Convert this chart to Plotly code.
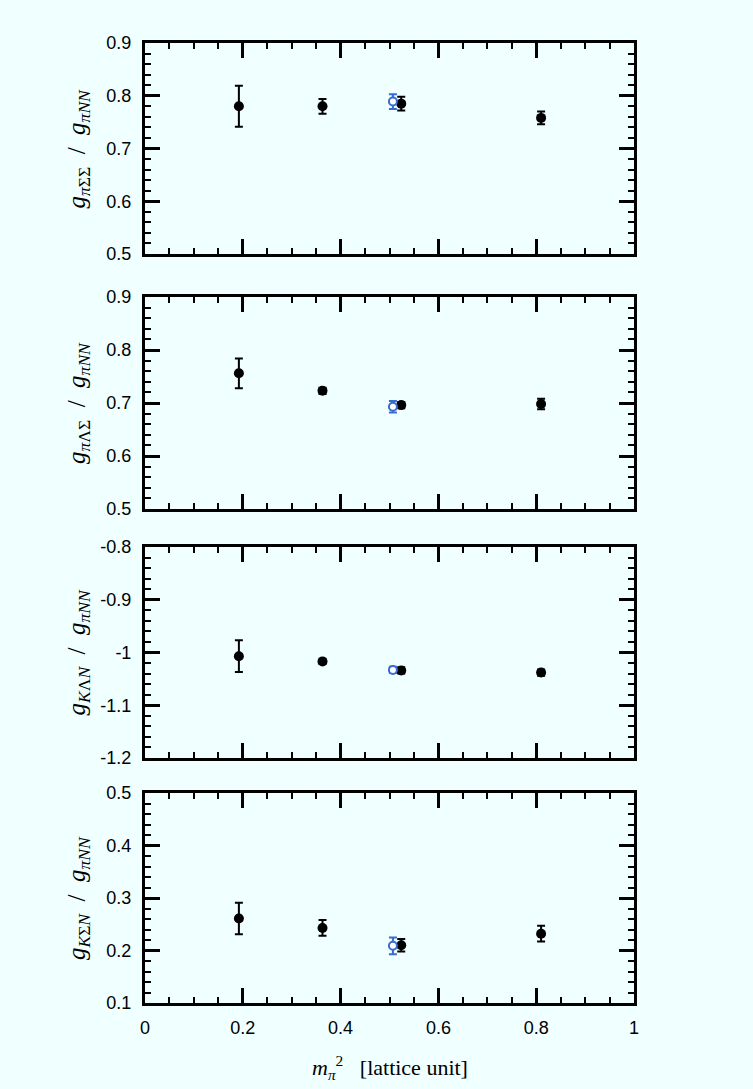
import plotly.graph_objects as go

# ---------------- data ----------------
x_black = [0.192, 0.363, 0.524, 0.810]
x_blue = [0.507]

y1 = [0.780, 0.780, 0.785, 0.758]
e1 = [0.039, 0.014, 0.013, 0.012]
y1_blue = [0.789]
e1_blue = [0.014]

y2 = [0.756, 0.723, 0.696, 0.698]
e2 = [0.028, 0.006, 0.006, 0.010]
y2_blue = [0.693]
e2_blue = [0.011]

y3 = [-1.007, -1.017, -1.034, -1.038]
e3 = [0.030, 0.005, 0.006, 0.006]
y3_blue = [-1.033]
e3_blue = [0.006]

y4 = [0.261, 0.243, 0.210, 0.232]
e4 = [0.030, 0.015, 0.012, 0.015]
y4_blue = [0.209]
e4_blue = [0.016]

x_ticks = [0, 0.2, 0.4, 0.6, 0.8, 1]
x_ticktext = ["0", "0.2", "0.4", "0.6", "0.8", "1"]

y_ranges = [[0.5, 0.9], [0.5, 0.9], [-1.2, -0.8], [0.1, 0.5]]
y_tickvals = [
    [0.5, 0.6, 0.7, 0.8, 0.9],
    [0.5, 0.6, 0.7, 0.8, 0.9],
    [-1.2, -1.1, -1.0, -0.9, -0.8],
    [0.1, 0.2, 0.3, 0.4, 0.5],
]
y_ticktext = [
    ["0.5", "0.6", "0.7", "0.8", "0.9"],
    ["0.5", "0.6", "0.7", "0.8", "0.9"],
    ["-1.2", "-1.1", "-1", "-0.9", "-0.8"],
    ["0.1", "0.2", "0.3", "0.4", "0.5"],
]
y_titles = [
    "<i>g</i><sub><i>π</i>ΣΣ</sub>  /  <i>g</i><sub><i>πNN</i></sub>",
    "<i>g</i><sub><i>π</i>ΛΣ</sub>  /  <i>g</i><sub><i>πNN</i></sub>",
    "<i>g</i><sub><i>K</i>Λ<i>N</i></sub>  /  <i>g</i><sub><i>πNN</i></sub>",
    "<i>g</i><sub><i>K</i>Σ<i>N</i></sub>  /  <i>g</i><sub><i>πNN</i></sub>",
]
x_title = "<i>m</i><sub><i>π</i></sub><sup>2</sup>   [lattice unit]"

series = [(y1, e1, y1_blue, e1_blue), (y2, e2, y2_blue, e2_blue),
          (y3, e3, y3_blue, e3_blue), (y4, e4, y4_blue, e4_blue)]

# ---------------- layout geometry ----------------
W, H = 753, 1089
L, R, T, B = 145, 119, 43, 86
plot_h = H - T - B
panels_px = [(43, 254), (297, 509), (547, 758), (793, 1003)]
domains = [[(H - B - b) / plot_h, (H - B - t) / plot_h] for (t, b) in panels_px]

BG = "#F0FFFF"
BLUE = "#3A6BD0"

fig = go.Figure()
annotations = []
for i, (yy, ee, yb, eb) in enumerate(series):
    n = i + 1
    xa = "x" if n == 1 else f"x{n}"
    ya = "y" if n == 1 else f"y{n}"
    fig.add_trace(go.Scatter(
        x=x_black, y=yy, mode="markers", xaxis=xa, yaxis=ya,
        marker=dict(color="black", size=10, symbol="circle"),
        error_y=dict(type="data", array=ee, visible=True, color="black",
                     thickness=2, width=4),
        showlegend=False))
    fig.add_trace(go.Scatter(
        x=x_blue, y=yb, mode="markers", xaxis=xa, yaxis=ya,
        marker=dict(color="white", size=8, symbol="circle",
                    line=dict(color=BLUE, width=2)),
        error_y=dict(type="data", array=eb, visible=True, color=BLUE,
                     thickness=2, width=4),
        showlegend=False))

    axis_common = dict(
        showline=True, linecolor="black", linewidth=3, mirror="allticks",
        ticks="inside", ticklen=15, tickwidth=3, tickcolor="black",
        showgrid=False, zeroline=False,
        tickfont=dict(family="Liberation Sans, Arial, sans-serif", size=18, color="black"),
    )
    xkey = "xaxis" if n == 1 else f"xaxis{n}"
    ykey = "yaxis" if n == 1 else f"yaxis{n}"
    fig.update_layout(**{
        xkey: dict(
            **axis_common, anchor=ya, domain=[0, 1], range=[0, 1],
            tickvals=x_ticks, ticktext=x_ticktext,
            showticklabels=(n == 4), ticklabelstandoff=6,
            minor=dict(ticks="inside", ticklen=6, tickwidth=1.5,
                       tickcolor="black", dtick=0.05, tick0=0, showgrid=False),
        ),
        ykey: dict(
            **axis_common, anchor=xa, domain=domains[i], range=y_ranges[i],
            tickvals=y_tickvals[i], ticktext=y_ticktext[i],
            ticklabelstandoff=7,
            minor=dict(ticks="inside", ticklen=6, tickwidth=1.5,
                       tickcolor="black", dtick=0.02, tick0=0, showgrid=False),
        ),
    })
    annotations.append(dict(
        text=y_titles[i], xref="paper", yref="paper",
        x=0, xshift=-67, y=(domains[i][0] + domains[i][1]) / 2,
        xanchor="center", yanchor="middle", textangle=-90, showarrow=False,
        font=dict(family="Liberation Serif, DejaVu Serif, serif", size=25, color="black"),
    ))

annotations.append(dict(
    text=x_title, xref="paper", yref="paper", x=0.5, y=0, yshift=-64,
    xanchor="center", yanchor="middle", showarrow=False,
    font=dict(family="Liberation Serif, DejaVu Serif, serif", size=22, color="black"),
))

fig.update_layout(
    width=W, height=H,
    margin=dict(l=L, r=R, t=T, b=B),
    paper_bgcolor=BG, plot_bgcolor=BG,
    annotations=annotations,
)

fig.write_html(
    "out.html",
    config={"displayModeBar": False},
    post_script="document.body.style.margin='0';document.body.style.background='" + BG + "';",
)
